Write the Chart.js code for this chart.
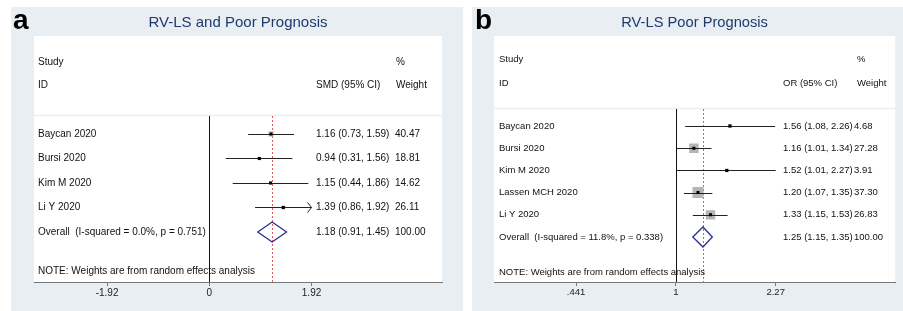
<!DOCTYPE html>
<html><head><meta charset="utf-8">
<script src="https://cdn.jsdelivr.net/npm/chart.js@4/dist/chart.umd.min.js"></script>
<style>
html,body{margin:0;padding:0;background:#fff;width:903px;height:311px;overflow:hidden;}
.panel{position:absolute;top:7px;height:304px;background:#e8eef1;}
#pa{left:11px;width:452px;}
#pb{left:472px;width:431px;}
canvas{display:block;}
</style></head><body>
<div class="panel" id="pa"><canvas id="ca" width="452" height="304"></canvas></div>
<div class="panel" id="pb"><canvas id="cb" width="431" height="304"></canvas></div>
<script>
// ---------- Panel a data ----------
const titleA = 'RV-LS and Poor Prognosis';
const studiesA = ['Baycan 2020', 'Bursi 2020', 'Kim M 2020', 'Li Y 2020'];
const estA = [1.16, 0.94, 1.15, 1.39];
const lowA = [0.73, 0.31, 0.44, 0.86];
const highA = [1.59, 1.56, 1.86, 1.92];
const weightA = [40.47, 18.81, 14.62, 26.11];
const clippedA = [false, false, false, true];
const overallA = [1.18, 0.91, 1.45];
const overallLabelA = 'Overall  (I-squared = 0.0%, p = 0.751)';
const tickValuesA = [-1.92, 0, 1.92];
const tickLabelsA = ['-1.92', '0', '1.92'];

// ---------- Panel b data ----------
const titleB = 'RV-LS Poor Prognosis';
const studiesB = ['Baycan 2020', 'Bursi 2020', 'Kim M 2020', 'Lassen MCH 2020', 'Li Y 2020'];
const estB = [1.56, 1.16, 1.52, 1.20, 1.33];
const lowB = [1.08, 1.01, 1.01, 1.07, 1.15];
const highB = [2.26, 1.34, 2.27, 1.35, 1.53];
const weightB = [4.68, 27.28, 3.91, 37.30, 26.83];
const clippedB = [false, false, false, false, false];
const overallB = [1.25, 1.15, 1.35];
const overallLabelB = 'Overall  (I-squared = 11.8%, p = 0.338)';
const tickValuesB = [0.441, 1, 2.27];
const tickLabelsB = ['.441', '1', '2.27'];

const FONT = '"Liberation Sans", Arial, Helvetica, sans-serif';
const BG = '#e8eef1';

function fmt(v){ return v.toFixed(2); }

function buildPanel(canvas, p) {
  const n = p.studies.length;
  const overallRow = n + 1;
  const boxR = p.weights.map(w => p.boxK * Math.sqrt(w) / Math.SQRT2);

  const plugin = {
    id: 'forest' + p.letter,
    beforeDraw(chart) {
      const {ctx, chartArea: ca, scales: {y}} = chart;
      ctx.save();
      ctx.fillStyle = '#fff';
      ctx.fillRect(ca.left, ca.top, ca.right - ca.left, ca.bottom - ca.top);
      const sy = Math.round(y.getPixelForValue(p.sepRow)) + 0.5;
      ctx.strokeStyle = BG; ctx.lineWidth = 1.5;
      ctx.beginPath(); ctx.moveTo(ca.left, sy); ctx.lineTo(ca.right, sy); ctx.stroke();
      // title
      ctx.fillStyle = '#1e3a6e';
      ctx.font = p.titleSize + 'px ' + FONT;
      ctx.textAlign = 'center'; ctx.textBaseline = 'middle';
      ctx.fillText(p.title, (ca.left + ca.right) / 2, 16);
      // panel letter
      ctx.fillStyle = '#000';
      ctx.font = 'bold 28px ' + FONT;
      ctx.textAlign = 'left'; ctx.textBaseline = 'alphabetic';
      ctx.fillText(p.letter, p.letterX, 22);
      ctx.restore();
    },
    beforeDatasetsDraw(chart) {
      const {ctx, chartArea: ca, scales: {x, y}} = chart;
      const top = Math.round(y.getPixelForValue(p.sepRow)) + 1;
      ctx.save();
      // null line
      const nx = Math.round(x.getPixelForValue(p.nullValue)) + 0.5;
      ctx.strokeStyle = '#111'; ctx.lineWidth = 1;
      ctx.beginPath(); ctx.moveTo(nx, top); ctx.lineTo(nx, ca.bottom); ctx.stroke();
      // overall dashed line
      const ox = Math.round(x.getPixelForValue(p.overall[0])) + 0.5;
      ctx.strokeStyle = '#dd5c5c'; ctx.setLineDash([2, 2]);
      ctx.beginPath(); ctx.moveTo(ox, top); ctx.lineTo(ox, ca.bottom); ctx.stroke();
      ctx.restore();
    },
    afterDatasetDraw(chart, args) {
      if (args.index !== 1) return;
      const {ctx, scales: {x, y}} = chart;
      ctx.save();
      ctx.strokeStyle = '#222'; ctx.lineWidth = 1;
      for (let i = 0; i < n; i++) {
        const py = Math.round(y.getPixelForValue(i + 1)) + 0.5;
        const x1 = x.getPixelForValue(p.low[i]);
        const x2 = x.getPixelForValue(p.high[i]);
        ctx.beginPath(); ctx.moveTo(x1, py); ctx.lineTo(x2, py); ctx.stroke();
        if (p.clipped[i]) {
          ctx.beginPath();
          ctx.moveTo(x2 - 4, py - 5); ctx.lineTo(x2, py); ctx.lineTo(x2 - 4, py + 5);
          ctx.stroke();
        }
      }
      // overall diamond
      const cy = y.getPixelForValue(overallRow);
      const h = 10;
      ctx.strokeStyle = '#2b2f8f'; ctx.lineWidth = 1.3;
      ctx.beginPath();
      ctx.moveTo(x.getPixelForValue(p.overall[1]), cy);
      ctx.lineTo(x.getPixelForValue(p.overall[0]), cy - h);
      ctx.lineTo(x.getPixelForValue(p.overall[2]), cy);
      ctx.lineTo(x.getPixelForValue(p.overall[0]), cy + h);
      ctx.closePath();
      ctx.stroke();
      ctx.restore();
    },
    afterDraw(chart) {
      const {ctx, scales: {y}} = chart;
      ctx.save();
      ctx.fillStyle = '#111';
      ctx.font = p.fontSize + 'px ' + FONT;
      ctx.textAlign = 'left'; ctx.textBaseline = 'middle';
      ctx.fillText('Study', p.labelX, y.getPixelForValue(p.hdr1));
      ctx.fillText('ID', p.labelX, y.getPixelForValue(p.hdr2));
      ctx.fillText(p.ciHeader, p.ciX, y.getPixelForValue(p.hdr2));
      ctx.fillText('%', p.wHX, y.getPixelForValue(p.hdr1));
      ctx.fillText('Weight', p.wHX, y.getPixelForValue(p.hdr2));
      for (let i = 0; i < n; i++) {
        const py = y.getPixelForValue(i + 1);
        ctx.fillText(p.studies[i], p.labelX, py);
        ctx.fillText(fmt(p.est[i]) + ' (' + fmt(p.low[i]) + ', ' + fmt(p.high[i]) + ')', p.ciX, py);
        ctx.fillText(fmt(p.weights[i]), p.wX, py);
      }
      const oy = y.getPixelForValue(overallRow);
      ctx.fillText(p.overallLabel, p.labelX, oy);
      ctx.fillText(fmt(p.overall[0]) + ' (' + fmt(p.overall[1]) + ', ' + fmt(p.overall[2]) + ')', p.ciX, oy);
      ctx.fillText('100.00', p.wX, oy);
      ctx.fillText('NOTE: Weights are from random effects analysis', p.labelX, y.getPixelForValue(p.noteRow));
      ctx.restore();
    }
  };

  const points = p.est.map((v, i) => ({x: v, y: i + 1}));
  return new Chart(canvas, {
    type: 'scatter',
    data: {
      datasets: [
        { data: points, pointStyle: 'rect', pointRadius: 2.1, backgroundColor: '#000', borderWidth: 0 },
        { data: points, pointStyle: 'rect', pointRadius: boxR, backgroundColor: '#b5b5b5', borderWidth: 0 }
      ]
    },
    options: {
      responsive: false,
      animation: false,
      events: [],
      layout: { padding: p.padding },
      plugins: { legend: { display: false }, tooltip: { enabled: false }, title: { display: false } },
      scales: {
        x: {
          type: p.xType,
          min: p.xMin, max: p.xMax,
          position: 'bottom',
          afterBuildTicks: s => { s.ticks = p.tickValues.map(v => ({value: v})); },
          afterFit: s => { s.height = 29; },
          ticks: {
            autoSkip: false, maxRotation: 0, padding: 1,
            color: '#222', font: { family: FONT, size: p.fontSize },
            callback: (v, i) => p.tickLabels[i]
          },
          grid: { drawOnChartArea: false, drawTicks: true, tickLength: 4, color: '#777' },
          border: { display: true, color: '#777', width: 1 }
        },
        y: {
          type: 'linear', reverse: true, display: false,
          min: p.yMin, max: p.yMax
        }
      }
    },
    plugins: [plugin]
  });
}

buildPanel(document.getElementById('ca'), {
  letter: 'a', letterX: 2, title: titleA, titleSize: 15, fontSize: 10,
  studies: studiesA, est: estA, low: lowA, high: highA, weights: weightA, clipped: clippedA,
  overall: overallA, overallLabel: overallLabelA, ciHeader: 'SMD (95% CI)',
  tickValues: tickValuesA, tickLabels: tickLabelsA,
  xType: 'linear', xMin: -3.292, xMax: 4.370, nullValue: 0,
  yMin: -3.0, yMax: 7.041, sepRow: 0.22, hdr1: -1.94, hdr2: -1.0, noteRow: 6.59,
  padding: {left: 23, right: 21, top: 29, bottom: 0},
  labelX: 27, ciX: 305, wX: 384, wHX: 385, boxK: 0.8
});

buildPanel(document.getElementById('cb'), {
  letter: 'b', letterX: 3, title: titleB, titleSize: 14.7, fontSize: 9.5,
  studies: studiesB, est: estB, low: lowB, high: highB, weights: weightB, clipped: clippedB,
  overall: overallB, overallLabel: overallLabelB, ciHeader: 'OR (95% CI)',
  tickValues: tickValuesB, tickLabels: tickLabelsB,
  xType: 'logarithmic', xMin: 0.2250, xMax: 6.055, nullValue: 1,
  yMin: -3.054, yMax: 8.027, sepRow: 0.17, hdr1: -2.02, hdr2: -0.94, noteRow: 7.58,
  padding: {left: 22, right: 4, top: 29, bottom: 0},
  labelX: 27, ciX: 311, wX: 382, wHX: 385, boxK: 1.8
});
</script>
</body></html>
